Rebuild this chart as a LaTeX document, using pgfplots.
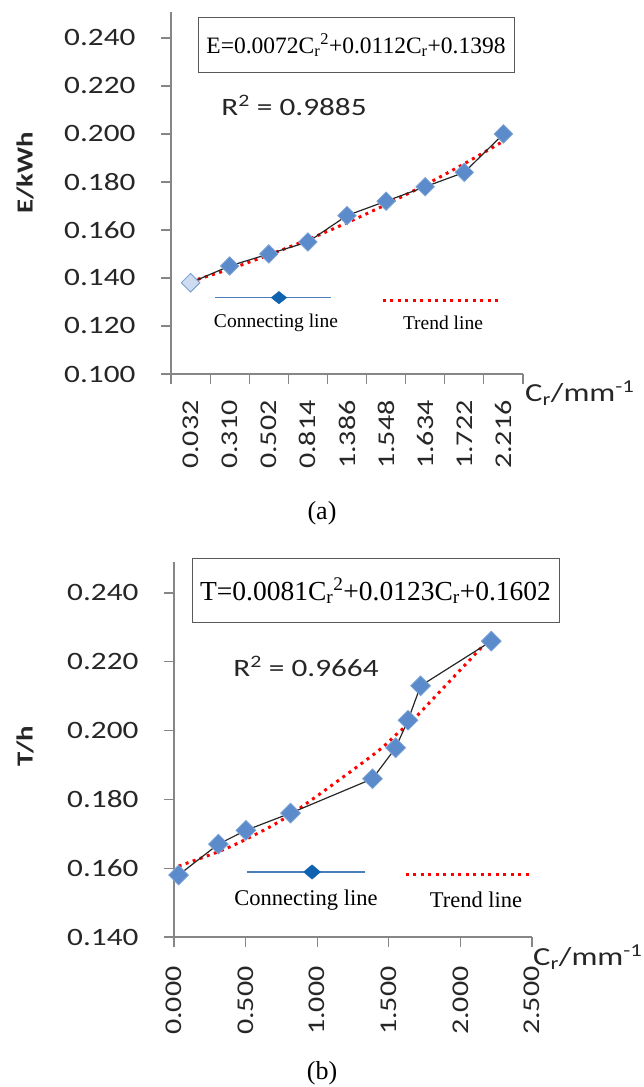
\documentclass[border=0pt]{standalone}
\usepackage{fontspec}
\setmainfont{Liberation Serif}
\newfontfamily\calfont[FakeStretch=1.25]{Carlito}
\usepackage{pgfplots}
\pgfplotsset{compat=1.18}
\definecolor{axgray}{HTML}{868686}
\definecolor{mk}{HTML}{5B8BCB}
\definecolor{mkedge}{HTML}{7BA2D6}
\definecolor{legblue}{HTML}{4A7EBB}
\definecolor{legdia}{HTML}{0F62B0}
\definecolor{txt}{HTML}{262626}
\pgfplotsset{
 myax/.style={
  scale only axis, axis x line*=bottom, axis y line*=left,
  axis line style={axgray, line width=1.2pt, -},
  tick align=outside, major tick length=10pt, minor tick length=10pt,
  tick style={axgray, line width=1.2pt},
  tick label style={font=\calfont\fontsize{25}{25}\selectfont, text=txt},
  yticklabel style={xshift=-22pt},
  /pgf/number format/assume math mode=true,
  clip=false,
 },
 conn/.style={black!85, line width=1.2pt, mark=square*, mark size=6.5pt,
   mark options={rotate=45, fill=mk, draw=mkedge, solid, line width=0.8pt}},
 trend/.style={red, line width=3pt, dash pattern=on 3pt off 4.5pt, smooth},
}
\begin{document}
\begin{tikzpicture}
\useasboundingbox (0,0) rectangle (644pt,1087pt);
% ---------------- (a) ----------------
\begin{axis}[myax, at={(171pt,713pt)}, anchor=south west, width=352pt, height=362pt,
 xmin=0.5, xmax=9.5, ymin=0.100, ymax=0.2508,
 xtick={1,2,3,4,5,6,7,8,9},
 xticklabels={0.032,0.310,0.502,0.814,1.386,1.548,1.634,1.722,2.216},
 major x tick style={draw=none},
 minor xtick={0.5,1.5,2.5,3.5,4.5,5.5,6.5,7.5,8.5,9.5},
 xticklabel style={yshift=-13pt, rotate=90, anchor=east, font=\calfont\fontsize{24}{24}\selectfont},
 ytick={0.100,0.120,0.140,0.160,0.180,0.200,0.220,0.240},
 yticklabels={0.100,0.120,0.140,0.160,0.180,0.200,0.220,0.240},
]
\addplot[trend] coordinates {(1,0.1385) (2,0.1437) (3,0.1496) (4,0.1560) (5,0.1630) (6,0.1706) (7,0.1788) (8,0.1876) (9,0.1970)};
\addplot[conn] coordinates {(1,0.138) (2,0.145) (3,0.150) (4,0.155) (5,0.166) (6,0.172) (7,0.178) (8,0.184) (9,0.200)};
\addplot[only marks, mark=square*, mark size=6.5pt, mark options={rotate=45, fill=mk!30, draw=mkedge, line width=0.8pt}] coordinates {(1,0.138)};
% legend samples
\addplot[legblue, line width=1.2pt] coordinates {(1.625,0.1318) (4.59,0.1318)};
\addplot[only marks, mark=square*, mark size=5.5pt, mark options={yscale=0.8, rotate=45, fill=legdia, draw=legdia}] coordinates {(3.26,0.1318)};
\addplot[red, line width=3pt, dash pattern=on 3pt off 4.5pt] coordinates {(5.92,0.1305) (8.86,0.1305)};
\end{axis}
\node[draw=black!65, line width=1pt, fill=white, minimum width=316pt, minimum height=55pt, inner sep=0pt,
  font=\fontsize{23.5}{28}\selectfont] at (356pt,1042pt)
  {E=0.0072C\textsubscript{r}\textsuperscript{2}+0.0112C\textsubscript{r}+0.1398};
\node[font=\calfont\fontsize{25}{25}\selectfont, text=txt] at (294pt,982pt) {R\textsuperscript{2} = 0.9885};
\node[font=\fontsize{19.5}{22}\selectfont] at (276pt,764pt) {Connecting line};
\node[font=\fontsize{19.5}{22}\selectfont] at (443pt,764pt) {Trend line};
\node[font=\calfont\bfseries\fontsize{23}{23}\selectfont, text=txt, rotate=90] at (25pt,914pt) {E/kWh};
\node[font=\calfont\fontsize{26}{26}\selectfont, text=txt, anchor=west, inner sep=0pt] at (525pt,694pt) {C\textsubscript{r}/mm\textsuperscript{-1}};
\node[font=\fontsize{26}{30}\selectfont] at (322pt,574pt) {(a)};
% ---------------- (b) ----------------
\begin{axis}[myax, at={(174pt,150pt)}, anchor=south west, width=358pt, height=375pt,
 xmin=0, xmax=2.5, ymin=0.140, ymax=0.249,
 xtick={0,0.5,1,1.5,2,2.5},
 xticklabels={0.000,0.500,1.000,1.500,2.000,2.500},
 xticklabel style={yshift=-16pt, rotate=90, anchor=east, font=\calfont\fontsize{24}{24}\selectfont},
 ytick={0.140,0.160,0.180,0.200,0.220,0.240},
 yticklabels={0.140,0.160,0.180,0.200,0.220,0.240},
]
\addplot[trend] coordinates {(0.032,0.1606) (0.310,0.1648) (0.502,0.1684) (0.814,0.1756) (1.386,0.1928) (1.548,0.1987) (1.634,0.2019) (1.722,0.2054) (2.216,0.2272)};
\addplot[conn, mark size=7pt] coordinates {(0.032,0.158) (0.310,0.167) (0.502,0.171) (0.814,0.176) (1.386,0.186) (1.548,0.195) (1.634,0.203) (1.722,0.213) (2.216,0.226)};
% legend samples
\addplot[legblue, line width=1.2pt] coordinates {(0.51,0.1589) (1.334,0.1589)};
\addplot[only marks, mark=square*, mark size=6pt, mark options={yscale=0.85, rotate=45, fill=legdia, draw=legdia}] coordinates {(0.964,0.1589)};
\addplot[red, line width=3pt, dash pattern=on 3pt off 4.5pt] coordinates {(1.62,0.1583) (2.49,0.1583)};
\end{axis}
\node[draw=black!65, line width=1pt, fill=white, minimum width=367pt, minimum height=64pt, inner sep=0pt,
  font=\fontsize{27.5}{32}\selectfont] at (375.5pt,496pt)
  {T=0.0081C\textsubscript{r}\textsuperscript{2}+0.0123C\textsubscript{r}+0.1602};
\node[font=\calfont\fontsize{25}{25}\selectfont, text=txt] at (306pt,421pt) {R\textsuperscript{2} = 0.9664};
\node[font=\fontsize{22.5}{26}\selectfont] at (306pt,187pt) {Connecting line};
\node[font=\fontsize{22.5}{26}\selectfont] at (476pt,187pt) {Trend line};
\node[font=\calfont\bfseries\fontsize{23}{23}\selectfont, text=txt, rotate=90] at (25pt,341pt) {T/h};
\node[font=\calfont\fontsize{26}{26}\selectfont, text=txt, anchor=west, inner sep=0pt] at (533pt,130pt) {C\textsubscript{r}/mm\textsuperscript{-1}};
\node[font=\fontsize{26}{30}\selectfont] at (322pt,14pt) {(b)};
\end{tikzpicture}
\end{document}
